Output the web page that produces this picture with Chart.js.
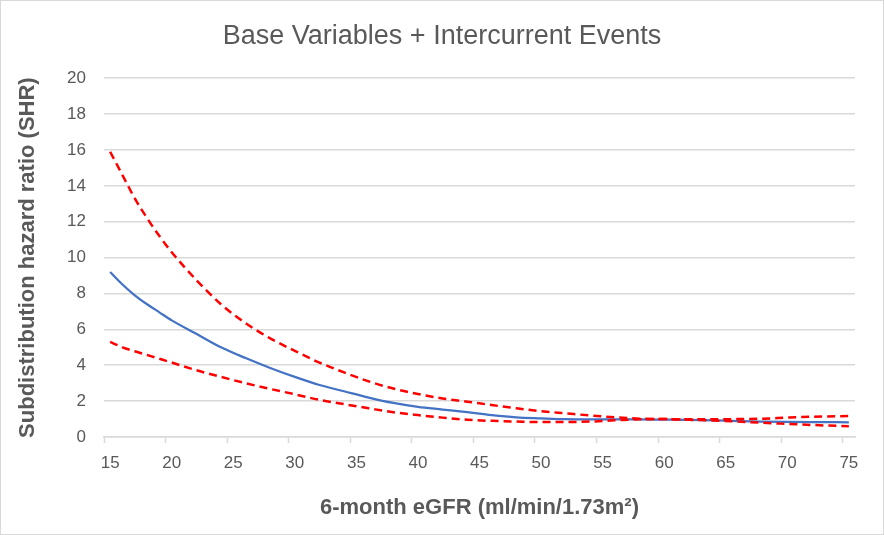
<!DOCTYPE html>
<html>
<head>
<meta charset="utf-8">
<title>Base Variables + Intercurrent Events</title>
<script src="https://cdn.jsdelivr.net/npm/chart.js@4"></script>
<style>
  html, body { margin: 0; padding: 0; background: #fff; }
  #wrap { width: 884px; height: 535px; box-sizing: border-box; border: 1px solid #d9d9d9; }
  canvas { display: block; }
</style>
</head>
<body>
<div id="wrap"><canvas id="shrChart" width="882" height="533"></canvas></div>
<script>
// x axis categories (6-month eGFR, one per unit)
const egfrCategories = [15, 16, 17, 18, 19, 20, 21, 22, 23, 24, 25, 26, 27, 28, 29, 30,
    31, 32, 33, 34, 35, 36, 37, 38, 39, 40, 41, 42, 43, 44, 45, 46, 47, 48, 49, 50,
    51, 52, 53, 54, 55, 56, 57, 58, 59, 60, 61, 62, 63, 64, 65, 66, 67, 68, 69, 70,
    71, 72, 73, 74, 75];

// points
const egfrPoints = [15, 16, 17, 18, 19, 20, 22, 24, 26, 28, 30, 32, 34, 36, 38, 40, 42,
    44, 46, 48, 50, 52, 54, 56, 58, 60, 62, 64, 66, 68, 70, 72, 75];

const shr = [9.2, 8.5, 7.9, 7.4, 6.95, 6.5, 5.75, 5.0, 4.4, 3.85, 3.35, 2.9, 2.55, 2.2,
    1.9, 1.68, 1.53, 1.38, 1.22, 1.1, 1.04, 0.99, 0.98, 0.98, 0.98, 0.97, 0.96, 0.93,
    0.89, 0.86, 0.84, 0.83, 0.82];

const upperCI = [15.9, 14.6, 13.3, 12.2, 11.2, 10.3, 8.75, 7.4, 6.35, 5.5, 4.8, 4.15,
    3.6, 3.1, 2.7, 2.4, 2.15, 1.97, 1.78, 1.6, 1.44, 1.32, 1.2, 1.1, 1.02, 1.0, 0.99,
    0.99, 1.0, 1.02, 1.08, 1.13, 1.17];

const lowerCI = [5.3, 5.0, 4.78, 4.57, 4.36, 4.15, 3.72, 3.35, 3.0, 2.68, 2.38, 2.07,
    1.83, 1.6, 1.38, 1.22, 1.08, 0.96, 0.9, 0.86, 0.83, 0.83, 0.86, 0.93, 0.99, 1.0,
    0.96, 0.92, 0.86, 0.79, 0.73, 0.67, 0.6];

const textColor = '#595959';
const gridColor = '#d9d9d9';

function toPoints(values) {
    return egfrPoints.map((x, i) => ({ x: String(x), y: values[i] }));
}

const ctx = document.getElementById('shrChart').getContext('2d');
new Chart(ctx, {
    type: 'line',
    data: {
        labels: egfrCategories.map(String),
        datasets: [
            {
                label: 'Upper 95% CI',
                data: toPoints(upperCI),
                borderColor: '#ff0000',
                borderWidth: 2.5,
                borderDash: [8, 5],
                order: 0
            },
            {
                label: 'Lower 95% CI',
                data: toPoints(lowerCI),
                borderColor: '#ff0000',
                borderWidth: 2.5,
                borderDash: [8, 5],
                order: 0
            },
            {
                label: 'SHR',
                data: toPoints(shr),
                borderColor: '#4472c4',
                borderWidth: 2.25,
                order: 1
            }
        ]
    },
    options: {
        responsive: false,
        animation: false,
        layout: { padding: { left: 28, right: 28, top: 0, bottom: 0 } },
        elements: {
            point: { radius: 0, hoverRadius: 0 },
            line: { tension: 0.3, cubicInterpolationMode: 'monotone', fill: false }
        },
        plugins: {
            legend: { display: false },
            tooltip: { enabled: false },
            title: {
                display: true,
                text: 'Base Variables + Intercurrent Events',
                color: textColor,
                font: { family: '"Liberation Sans", Arial, sans-serif', size: 27, weight: 'normal' },
                padding: { top: 19.4, bottom: 25.4 }
            }
        },
        scales: {
            x: {
                type: 'category',
                offset: true,
                afterFit: function(scale) { scale.height = 97; },
                border: { display: true, color: gridColor, width: 1.5 },
                grid: {
                    display: true,
                    offset: true,
                    drawOnChartArea: false,
                    drawTicks: true,
                    tickLength: 6,
                    tickWidth: 1.5,
                    tickColor: function(context) {
                        return (context.index % 5 === 0 && context.index < egfrCategories.length)
                            ? gridColor : 'rgba(0,0,0,0)';
                    }
                },
                ticks: {
                    autoSkip: false,
                    maxRotation: 0,
                    minRotation: 0,
                    padding: 9.8,
                    color: textColor,
                    font: { family: '"Liberation Sans", Arial, sans-serif', size: 17 },
                    callback: function(value) {
                        const lab = this.getLabelForValue(value);
                        return Number(lab) % 5 === 0 ? lab : '';
                    }
                },
                title: {
                    display: true,
                    text: '6-month eGFR (ml/min/1.73m²)',
                    color: textColor,
                    font: { family: '"Liberation Sans", Arial, sans-serif', size: 22, weight: 'bold' },
                    padding: { top: 0, bottom: 12.8 }
                }
            },
            y: {
                min: 0,
                max: 20,
                afterFit: function(scale) { scale.width = 75; },
                border: { display: false },
                grid: {
                    color: gridColor,
                    lineWidth: 1.5,
                    drawTicks: false
                },
                ticks: {
                    stepSize: 2,
                    padding: 18,
                    color: textColor,
                    font: { family: '"Liberation Sans", Arial, sans-serif', size: 17 }
                },
                title: {
                    display: true,
                    text: 'Subdistribution hazard ratio (SHR)',
                    color: textColor,
                    font: { family: '"Liberation Sans", Arial, sans-serif', size: 22, weight: 'bold' },
                    padding: { top: -14.2, bottom: 0 }
                }
            }
        }
    }
});
</script>
</body>
</html>
